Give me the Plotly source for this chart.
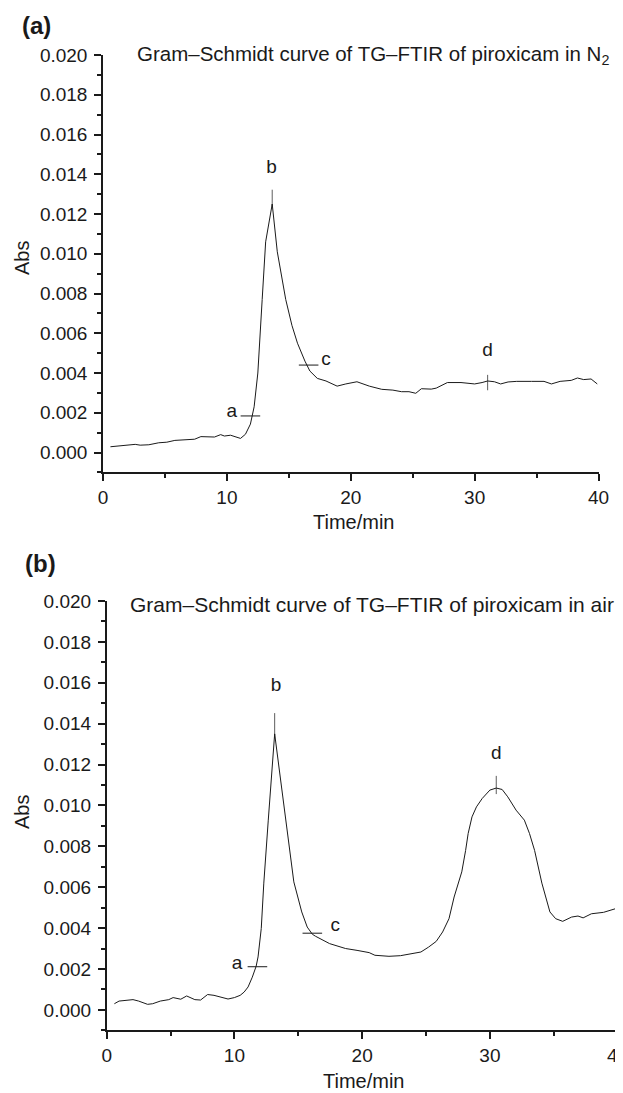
import plotly.graph_objects as go

# Gram-Schmidt curve, piroxicam in N2 (panel a)
time_n2 = [0.6, 2.1, 2.6, 3.0, 3.7, 4.5, 5.15, 5.8, 6.75, 7.4, 7.9, 8.5, 9.0, 9.5, 9.8,
           10.3, 10.6, 11.1, 11.5, 11.9, 12.2, 12.5, 12.85, 13.13, 13.66, 14.07, 14.75,
           15.25, 15.7, 16.3, 16.7, 17.3, 18.0, 18.9, 19.6, 20.5, 21.5, 22.5, 23.4, 24.1,
           24.7, 25.25, 25.7, 26.5, 26.9, 27.8, 28.9, 30.0, 30.6, 31.05, 31.6, 32.1, 32.7,
           33.4, 34.6, 35.6, 36.2, 36.9, 37.8, 38.3, 38.8, 39.4, 39.9]
abs_n2 = [0.00029, 0.00036, 0.00041, 0.00037, 0.00039, 0.00049, 0.00052, 0.00061, 0.00063,
          0.00067, 0.00080, 0.00080, 0.00078, 0.00090, 0.00083, 0.00087, 0.00080, 0.00071,
          0.00092, 0.00143, 0.0023, 0.0040, 0.0077, 0.0106, 0.0125, 0.0101, 0.0077,
          0.0064, 0.0055, 0.0046, 0.0041, 0.00373, 0.0036, 0.00334, 0.00345, 0.00356,
          0.00334, 0.00318, 0.00314, 0.00306, 0.00306, 0.00298, 0.00321, 0.00319, 0.00324,
          0.00352, 0.00352, 0.00345, 0.00352, 0.0036, 0.00356, 0.00345, 0.00355, 0.00358,
          0.00358, 0.00358, 0.00345, 0.00358, 0.00363, 0.00375, 0.00367, 0.0037, 0.00345]

# Gram-Schmidt curve, piroxicam in air (panel b)
time_air = [0.6, 0.97, 2.06, 2.5, 3.2, 3.6, 4.2, 4.86, 5.2, 5.8, 6.26, 6.9, 7.35, 7.9, 8.4,
            9.05, 9.5, 10.0, 10.45, 10.76, 11.07, 11.4, 11.7, 11.85, 12.1, 12.3, 12.5, 12.65,
            13.15, 14.03, 14.3, 14.65, 15.27, 15.7, 16.1, 16.35, 17.45, 18.7, 19.6, 20.55,
            21.0, 22.1, 23.0, 24.1, 24.6, 25.2, 25.8, 26.3, 26.8, 27.2, 27.8, 28.1, 28.3,
            28.6, 28.95, 29.4, 30.0, 30.5, 30.96, 31.4, 32.05, 32.7, 33.1, 33.5, 34.07, 34.7,
            35.15, 35.7, 36.4, 36.9, 37.3, 37.95, 38.9, 40.0]
abs_air = [0.0003, 0.00043, 0.0005, 0.00043, 0.00027, 0.0003, 0.00043, 0.0005, 0.0006,
           0.00052, 0.00068, 0.0005, 0.00048, 0.00075, 0.00071, 0.0006, 0.00053, 0.0006,
           0.00071, 0.00087, 0.00112, 0.0016, 0.00213, 0.00259, 0.00398, 0.0062, 0.0078,
           0.00928, 0.0135, 0.00928, 0.0078, 0.00626, 0.00479, 0.00405, 0.0037, 0.0036,
           0.00324, 0.0030, 0.00291, 0.0028, 0.00267, 0.00262, 0.00265, 0.00275, 0.00283,
           0.00307, 0.00335, 0.00381, 0.00446, 0.00552, 0.00675, 0.0078, 0.00863, 0.00944,
           0.00993, 0.01034, 0.01075, 0.01085, 0.01078, 0.01042, 0.00977, 0.00928, 0.00863,
           0.0078, 0.0062, 0.00479, 0.00446, 0.00433, 0.00454, 0.00459, 0.0045, 0.0047,
           0.00477, 0.00498]

# point labels a-d: tick mark positions and label text positions
marks_n2_h = ([11.9, 16.6], [0.00184, 0.0044])
marks_n2_v = ([13.66, 31.05], [0.0128, 0.00352])
labels_n2 = (["a", "b", "c", "d"], [10.4, 13.6, 18.0, 31.05], [0.00205, 0.0143, 0.00465, 0.00512])

marks_air_h = ([11.8, 16.1], [0.00211, 0.00375])
marks_air_v = ([13.15, 30.5], [0.0139, 0.0110])
labels_air = (["a", "b", "c", "d"], [10.2, 13.25, 17.9, 30.5], [0.00221, 0.01584, 0.0041, 0.0125])

W, H = 623, 1093
OFF = 8  # the page body adds an 8px margin around the plot div
FONT = "Liberation Sans, Arial, sans-serif"
INK = "#1a1a1a"


def px(x):
    return (x - OFF) / W


def py(y):
    return 1 - (y - OFF) / H


fig = go.Figure()

panels = [
    ("x", "y", time_n2, abs_n2, marks_n2_h, marks_n2_v, labels_n2, [12, 11]),
    ("x2", "y2", time_air, abs_air, marks_air_h, marks_air_v, labels_air, [18, 13]),
]
for xa, ya, t, v, mh, mv, lab, vsize in panels:
    fig.add_trace(go.Scatter(x=t, y=v, mode="lines", xaxis=xa, yaxis=ya,
                             line=dict(color=INK, width=1), showlegend=False))
    fig.add_trace(go.Scatter(x=mh[0], y=mh[1], mode="markers", xaxis=xa, yaxis=ya,
                             marker=dict(symbol="line-ew", size=14,
                                         line=dict(color=INK, width=1)),
                             showlegend=False))
    fig.add_trace(go.Scatter(x=mv[0], y=mv[1], mode="markers", xaxis=xa, yaxis=ya,
                             marker=dict(symbol="line-ns", size=vsize,
                                         line=dict(color=INK, width=1)),
                             showlegend=False))
    fig.add_trace(go.Scatter(x=lab[1], y=lab[2], text=lab[0], mode="text", xaxis=xa, yaxis=ya,
                             textfont=dict(family=FONT, size=19, color=INK),
                             showlegend=False))

axis_common = dict(showline=True, linecolor=INK, linewidth=1.5, ticks="outside",
                   ticklen=7, tickwidth=1.5, tickcolor=INK, showgrid=False, zeroline=False,
                   tickfont=dict(family=FONT, size=19, color=INK), ticklabeloverflow="allow")

xcommon = dict(axis_common, range=[0, 40], tick0=0, dtick=10,
               minor=dict(ticks="outside", ticklen=4, tickwidth=1.5, tickcolor=INK, dtick=5))
ycommon = dict(axis_common, range=[-0.001, 0.020], tick0=0, dtick=0.002, tickformat=".3f",
               minor=dict(ticks="outside", ticklen=4, tickwidth=1.5, tickcolor=INK, dtick=0.001),
               ticklabelstandoff=3)

fig.update_layout(
    width=W, height=H,
    margin=dict(l=0, r=0, t=0, b=0, autoexpand=False),
    plot_bgcolor="white", paper_bgcolor="white",
    xaxis=dict(xcommon, domain=[px(103), px(598.5)], anchor="y"),
    yaxis=dict(ycommon, domain=[py(472.4), py(55)], anchor="x"),
    xaxis2=dict(xcommon, domain=[px(106.7), px(617.6)], anchor="y2"),
    yaxis2=dict(ycommon, domain=[py(1030.3), py(601)], anchor="x2"),
)

annots = [
    ("<b>(a)</b>", 20, 25, "left", 24, 0),
    ("<b>(b)</b>", 23, 564, "left", 24, 0),
    ("Gram–Schmidt curve of TG–FTIR of piroxicam in N<sub>2</sub>", 135, 55, "left", 20.5, 0),
    ("Gram–Schmidt curve of TG–FTIR of piroxicam in air", 128, 604, "left", 21, 0),
    ("Time/min", 353, 522, "center", 20, 0),
    ("Time/min", 363, 1081, "center", 20, 0),
    ("Abs", 22, 258, "center", 20, -90),
    ("Abs", 22, 812, "center", 20, -90),
]
for text, x, y, anchor, size, angle in annots:
    fig.add_annotation(text=text, xref="paper", yref="paper", x=px(x), y=py(y),
                       xanchor=anchor, yanchor="middle", showarrow=False, textangle=angle,
                       font=dict(family=FONT, size=size, color=INK))

fig.write_html("out.html")
